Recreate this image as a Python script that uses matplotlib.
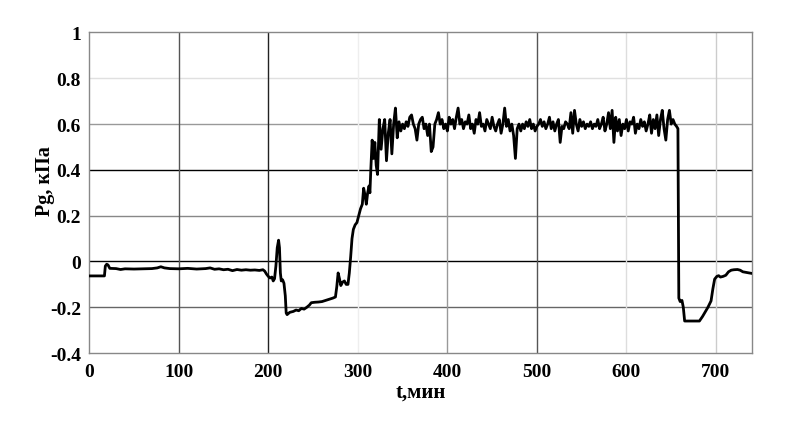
import numpy as np
import matplotlib
matplotlib.use("Agg")
import matplotlib.pyplot as plt

# ---- data ----
t_start = [0, 17, 18, 19.5, 21, 23, 30, 35, 40, 50, 60, 70, 76, 80, 84, 90, 100, 110, 120,
           130, 135, 140, 145, 150, 155, 160, 165, 170, 175, 180, 185, 190, 194, 196, 198,
           200, 202, 204, 205.5, 207, 208.5, 210, 211.5, 212.5, 213.5, 214.5, 216, 217.5,
           219, 220, 221, 224, 228, 231, 234, 237, 240, 243, 246, 248, 252, 256, 260, 264,
           268, 272, 275, 276.5, 278, 279.5, 281, 283, 285, 287, 289, 290.5, 292, 293.5,
           295, 297, 299, 301, 303, 305, 306.5, 308, 309.5, 311, 312.5, 313.5, 314.5, 316,
           317.5, 319, 320.5, 322]
p_start = [-0.063, -0.063, -0.02, -0.012, -0.015, -0.03, -0.031, -0.035, -0.032, -0.033,
           -0.032, -0.031, -0.028, -0.023, -0.028, -0.031, -0.032, -0.030, -0.033, -0.031,
           -0.028, -0.034, -0.032, -0.036, -0.034, -0.040, -0.035, -0.038, -0.036, -0.038,
           -0.037, -0.039, -0.036, -0.042, -0.055, -0.065, -0.072, -0.068, -0.085, -0.075,
           -0.02, 0.06, 0.093, 0.06, -0.05, -0.085, -0.08, -0.095, -0.15, -0.225, -0.232,
           -0.222, -0.218, -0.212, -0.215, -0.205, -0.208, -0.20, -0.19, -0.18, -0.178,
           -0.177, -0.175, -0.17, -0.165, -0.16, -0.155, -0.11, -0.05, -0.075, -0.105,
           -0.09, -0.085, -0.10, -0.10, -0.05, 0.02, 0.10, 0.14, 0.16, 0.17, 0.20, 0.23,
           0.25, 0.32, 0.29, 0.25, 0.30, 0.33, 0.30, 0.40, 0.53, 0.45, 0.52, 0.42, 0.38]

# plateau, sampled every 2 minutes from 324 to 656
t_plateau = np.arange(324, 657, 2)
p_plateau = [0.62, 0.49, 0.58, 0.62, 0.44, 0.56, 0.62, 0.47, 0.60, 0.67,
             0.54, 0.61, 0.57, 0.60, 0.58, 0.61, 0.59, 0.63, 0.64, 0.60,
             0.58, 0.53, 0.60, 0.62, 0.63, 0.58, 0.60, 0.55, 0.60, 0.48,
             0.50, 0.60, 0.62, 0.65, 0.60, 0.62, 0.58, 0.60, 0.57, 0.63,
             0.60, 0.62, 0.58, 0.63, 0.67, 0.60, 0.62, 0.58, 0.61, 0.60,
             0.64, 0.58, 0.60, 0.56, 0.62, 0.60, 0.65, 0.59, 0.60, 0.57,
             0.62, 0.60, 0.58, 0.63, 0.59, 0.57, 0.60, 0.62, 0.56, 0.60,
             0.67, 0.59, 0.62, 0.57, 0.60, 0.55, 0.45, 0.58, 0.60, 0.57,
             0.60, 0.58, 0.61, 0.59, 0.62, 0.58, 0.60, 0.57, 0.59, 0.60,
             0.62, 0.59, 0.61, 0.58, 0.60, 0.63, 0.58, 0.61, 0.57, 0.60,
             0.62, 0.52, 0.59, 0.58, 0.61, 0.60, 0.58, 0.65, 0.56, 0.66,
             0.60, 0.57, 0.62, 0.59, 0.61, 0.58, 0.60, 0.59, 0.61, 0.58,
             0.60, 0.59, 0.62, 0.58, 0.60, 0.63, 0.57, 0.60, 0.65, 0.58,
             0.66, 0.52, 0.63, 0.57, 0.62, 0.55, 0.60, 0.58, 0.62, 0.57,
             0.61, 0.60, 0.63, 0.56, 0.60, 0.58, 0.62, 0.59, 0.61, 0.57,
             0.60, 0.64, 0.56, 0.62, 0.58, 0.64, 0.55, 0.62, 0.66, 0.58,
             0.53, 0.62, 0.66, 0.60, 0.62, 0.60, 0.59]

t_end = [657.5, 658.5, 660, 662, 663.5, 665, 681.5, 685, 688, 691, 694.5, 696.5, 698.5,
         701, 703, 705, 708, 711, 714, 717, 720, 724, 727, 730, 734, 737, 740]
p_end = [0.58, -0.16, -0.175, -0.17, -0.20, -0.26, -0.26, -0.24, -0.22, -0.20, -0.172,
         -0.12, -0.077, -0.065, -0.062, -0.068, -0.065, -0.06, -0.045, -0.038, -0.036,
         -0.035, -0.038, -0.045, -0.048, -0.05, -0.052]

x_ticks = [0, 100, 200, 300, 400, 500, 600, 700]
y_ticks = [-0.4, -0.2, 0, 0.2, 0.4, 0.6, 0.8, 1]
y_tick_labels = ["-0.4", "-0.2", "0", "0.2", "0.4", "0.6", "0.8", "1"]

t_all = np.concatenate([t_start, t_plateau, t_end])
p_all = np.concatenate([p_start, p_plateau, p_end])

# ---- figure ----
plt.rcParams['font.family'] = ['Liberation Serif', 'DejaVu Serif']
fig = plt.figure(figsize=(8.11, 4.35), dpi=100)
ax = fig.add_axes([0.110, 0.186, 0.817, 0.737])

ax.set_xlim(0, 740)
ax.set_ylim(-0.4, 1)

# grid lines with individual shades as in reference
hcolors = {-0.2: "#666666", 0: "#000000", 0.2: "#888888", 0.4: "#000000",
           0.6: "#999999", 0.8: "#e0e0e0"}
for yv, c in hcolors.items():
    ax.axhline(yv, color=c, lw=1.0, zorder=1)
vcolors = {100: "#555555", 200: "#222222", 300: "#eeeeee", 400: "#999999",
           500: "#555555", 600: "#dddddd", 700: "#cccccc"}
for xv, c in vcolors.items():
    ax.axvline(xv, color=c, lw=1.0, zorder=1)

ax.plot(t_all, p_all, color="black", lw=2.0, zorder=3, solid_joinstyle="round")

for s in ax.spines.values():
    s.set_color("#888888")
    s.set_linewidth(1.0)

ax.set_xticks(x_ticks)
ax.set_yticks(y_ticks)
ax.set_yticklabels(y_tick_labels)
ax.tick_params(length=0, labelsize=14, pad=6)
ax.tick_params(axis='x', pad=7)
for lab in ax.get_xticklabels() + ax.get_yticklabels():
    lab.set_fontweight("bold")

ax.set_xlabel("t,мин", fontsize=15, fontweight="bold", labelpad=1)
ax.set_ylabel("Pg, кПа", fontsize=14.5, fontweight="bold")
ax.yaxis.set_label_coords(-0.052, 0.54)

fig.savefig("out.png", dpi=100)
